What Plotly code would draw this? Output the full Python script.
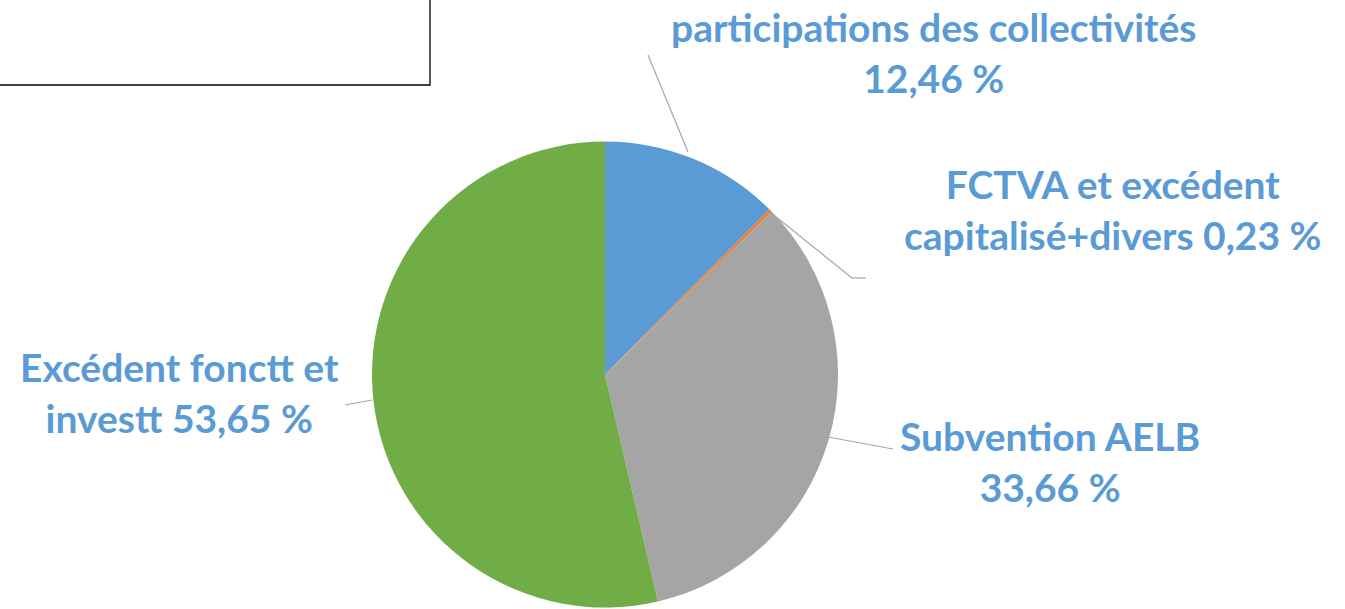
import plotly.graph_objects as go

# pie data (shares in %)
labels = [
    "participations des collectivités",
    "FCTVA et excédent capitalisé+divers",
    "Subvention AELB",
    "Excédent fonctt et investt",
]
values = [12.46, 0.23, 33.66, 53.65]
colors = ["#5B9BD5", "#ED7D31", "#A5A5A5", "#70AD47"]

# label text as shown next to the pie
label_text = [
    "participations des collectivités<br>12,46 %",
    "FCTVA et excédent<br>capitalisé+divers 0,23 %",
    "Subvention AELB<br>33,66 %",
    "Excédent fonctt et<br>investt 53,65 %",
]

W, H = 1345, 609
FONT = "Lato, sans-serif"
TXT = "#5B9BD5"


def px_x(v):
    return v / W


def px_y(v):
    return 1 - v / H


fig = go.Figure(go.Pie(
    labels=labels,
    values=values,
    marker=dict(colors=colors, line=dict(width=0)),
    sort=False,
    direction="clockwise",
    rotation=0,
    textinfo="none",
    hoverinfo="label+percent",
    domain=dict(x=[px_x(372), px_x(838)], y=[px_y(608), px_y(141)]),
    showlegend=False,
))

# label positions (pixel centres) and leader lines
label_pos = [(933, 52), (1113, 209), (1050, 461), (180, 392)]
leaders = [
    [(688, 152), (648, 55)],
    [(770, 212), (852, 278), (866, 278)],
    [(828, 437), (893, 449)],
    [(372, 400), (345, 405)],
]

for txt, (cx, cy) in zip(label_text, label_pos):
    fig.add_annotation(
        text=txt, x=px_x(cx), y=px_y(cy), xref="paper", yref="paper",
        xanchor="center", yanchor="middle", align="center", showarrow=False,
        font=dict(family=FONT, size=39, color=TXT, weight="bold"),
    )

for pts in leaders:
    for (x0, y0), (x1, y1) in zip(pts[:-1], pts[1:]):
        fig.add_shape(type="line", xref="paper", yref="paper",
                      x0=px_x(x0), y0=px_y(y0), x1=px_x(x1), y1=px_y(y1),
                      line=dict(color="#A6A6A6", width=1.2))

# cropped text box frame in the top-left corner
fig.add_shape(type="rect", xref="paper", yref="paper",
              x0=-0.01, y0=px_y(85), x1=px_x(430), y1=1.01,
              line=dict(color="#000000", width=1.3))

fig.update_layout(
    width=W, height=H,
    margin=dict(l=0, r=0, t=0, b=0),
    paper_bgcolor="#FFFFFF",
    plot_bgcolor="#FFFFFF",
)

# page body margin would shift the figure by 8px
fig.write_html("out.html", config={"displayModeBar": False},
               post_script="document.body.style.margin='0';")
